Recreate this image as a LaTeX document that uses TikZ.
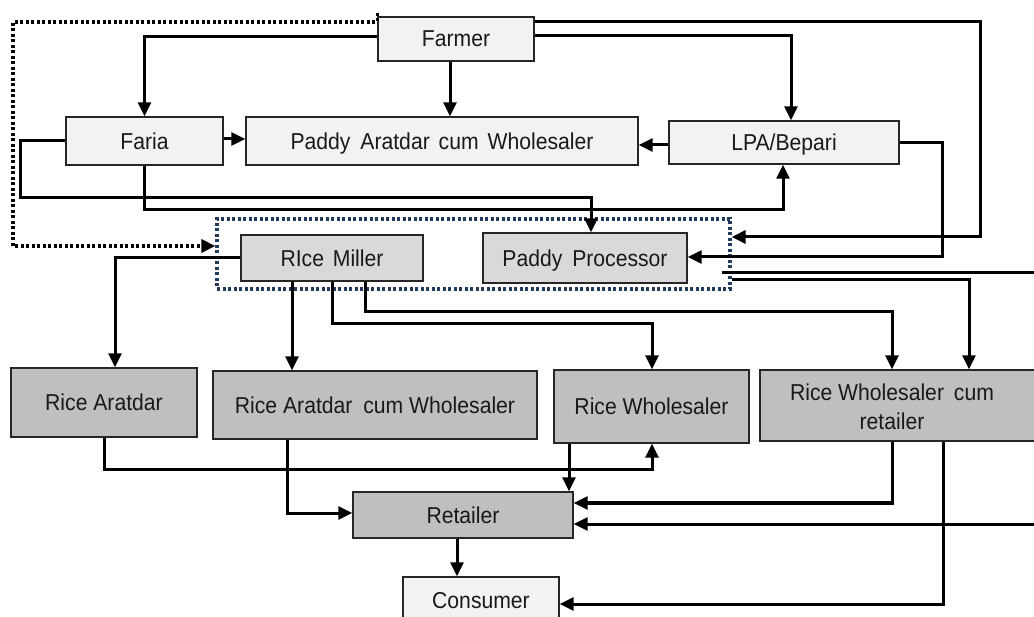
\documentclass[tikz,border=0pt]{standalone}
\usepackage{fontspec}
\setmainfont[FakeStretch=0.92]{Liberation Sans}
\usetikzlibrary{arrows.meta}
\definecolor{lightbox}{HTML}{F2F2F2}
\definecolor{midbox}{HTML}{D9D9D9}
\definecolor{darkbox}{HTML}{BFBFBF}
\definecolor{navydash}{HTML}{223A5E}
\definecolor{edge}{HTML}{262626}
\begin{document}
\begin{tikzpicture}[x=1pt,y=-1pt,
  every node/.style={font=\fontsize{23}{29}\selectfont, inner sep=0pt, text=black!90},
  box/.style={draw=edge, line width=1.4pt, rectangle},
  one/.style={text depth=0pt},
  lbox/.style={box, one, fill=lightbox},
  mbox/.style={box, one, fill=midbox},
  dbox/.style={box, one, fill=darkbox},
  arr/.style={line width=3pt, -{Triangle[length=14pt,width=13pt]}},
  ln/.style={line width=3pt},
  grpbox/.style={draw=navydash, line width=3.2pt, dash pattern=on 3pt off 2.5pt, rectangle},
  dotarr/.style={line width=3.2pt, dash pattern=on 3pt off 2.5pt, -{Triangle[length=14pt,width=13pt]}}
]
\useasboundingbox (0,0) rectangle (1034,617);

% nodes
\node[grpbox, minimum width=513pt, minimum height=70pt] (grp) at (473.5,254) {};
\node[lbox, minimum width=156pt, minimum height=44pt] (farmer) at (456,39) {Farmer};
\node[lbox, minimum width=157pt, minimum height=48pt] (faria) at (144.5,141) {Faria};
\node[lbox, minimum width=392pt, minimum height=48pt] (paw) at (442,141) {Paddy\hspace{4pt} Aratdar\hspace{3pt} cum\hspace{3pt} Wholesaler};
\node[lbox, minimum width=230pt, minimum height=43pt] (lpa) at (784,142.5) {LPA/Bepari};
\node[mbox, minimum width=182pt, minimum height=46pt] (rm) at (332,258) {RIce\hspace{3pt} Miller};
\node[mbox, minimum width=204pt, minimum height=50pt] (pp) at (585,258) {Paddy\hspace{4pt} Processor};
\node[dbox, minimum width=186pt, minimum height=69pt] (ra) at (104,402.5) {Rice Aratdar};
\node[dbox, minimum width=324pt, minimum height=68pt] (racw) at (375,405) {Rice Aratdar\hspace{5pt} cum Wholesaler};
\node[dbox, minimum width=195pt, minimum height=73pt] (rw) at (651.5,406.5) {Rice Wholesaler};
\node[box, fill=darkbox, minimum width=280pt, minimum height=71pt] (rwcr) at (900,405.5)
  {\hspace*{-16pt}\raisebox{-4pt}[\height][\depth]{\begin{tabular}{@{}c@{}}Rice Wholesaler\hspace{4pt} cum\\ retailer\end{tabular}}};
\node[dbox, minimum width=220pt, minimum height=46pt] (ret) at (463,515) {Retailer};
\node[lbox, minimum width=156pt, minimum height=46pt] (cons) at (481,600) {Consumer};

\coordinate (ppout) at (722,273);
\coordinate (edgeA) at (1034,273);
\coordinate (edgeB) at (1034,524);

% connectors from Farmer
\draw[arr] (farmer.west |- 0,37) -| (faria.north);
\draw[arr] (farmer.south -| 450,0) -- (paw.north -| 450,0);
\draw[arr] (farmer.east |- 0,36) -| (lpa.north -| 791,0);
\draw[arr] (farmer.east |- 0,22) -| (980,237) -- (grp.east |- 0,237);
\draw[dotarr] (farmer.north west |- 0,13) -- (farmer.north west |- 0,22) -| (13,246) -- (grp.west |- 0,246);

% middle row
\draw[arr] (lpa.west |- 0,145) -- (paw.east |- 0,145);
\draw[arr] (lpa.east) -| (942,257) -- (pp.east |- 0,257);
\draw[arr] (faria.east |- 0,139) -- (paw.west |- 0,139);
\draw[arr] (faria.west) -| (20,198) -| (pp.north -| 591,0);
\draw[arr] (faria.south) |- (783,210) -- (lpa.south -| 783,0);

% from Rice Miller
\draw[arr] (rm.west) -| (ra.north -| 115,0);
\draw[arr] (rm.south -| 292,0) -- (racw.north -| 292,0);
\draw[arr] (rm.south -| 332,0) |- (652,324) -- (rw.north -| 652,0);
\draw[arr] (rm.south -| 365,0) |- (892,312) -- (rwcr.north -| 892,0);

% from processor group
\draw[ln] (ppout) -- (edgeA);
\draw[arr] (grp.east |- 0,280) -| (rwcr.north -| 969,0);

% lower part
\draw[arr] (ra.south) |- (652,470) -- (rw.south -| 652,0);
\draw[arr] (racw.south -| 287,0) |- (ret.west |- 0,513);
\draw[arr] (rw.south -| 569,0) -- (ret.north -| 569,0);
\draw[arr] (rwcr.south -| 892,0) |- (ret.east |- 0,503);
\draw[arr] (edgeB) -- (ret.east |- 0,524);
\draw[arr] (rwcr.south -| 943,0) |- (cons.east |- 0,604);
\draw[arr] (ret.south -| 457,0) -- (cons.north -| 457,0);
\end{tikzpicture}
\end{document}
